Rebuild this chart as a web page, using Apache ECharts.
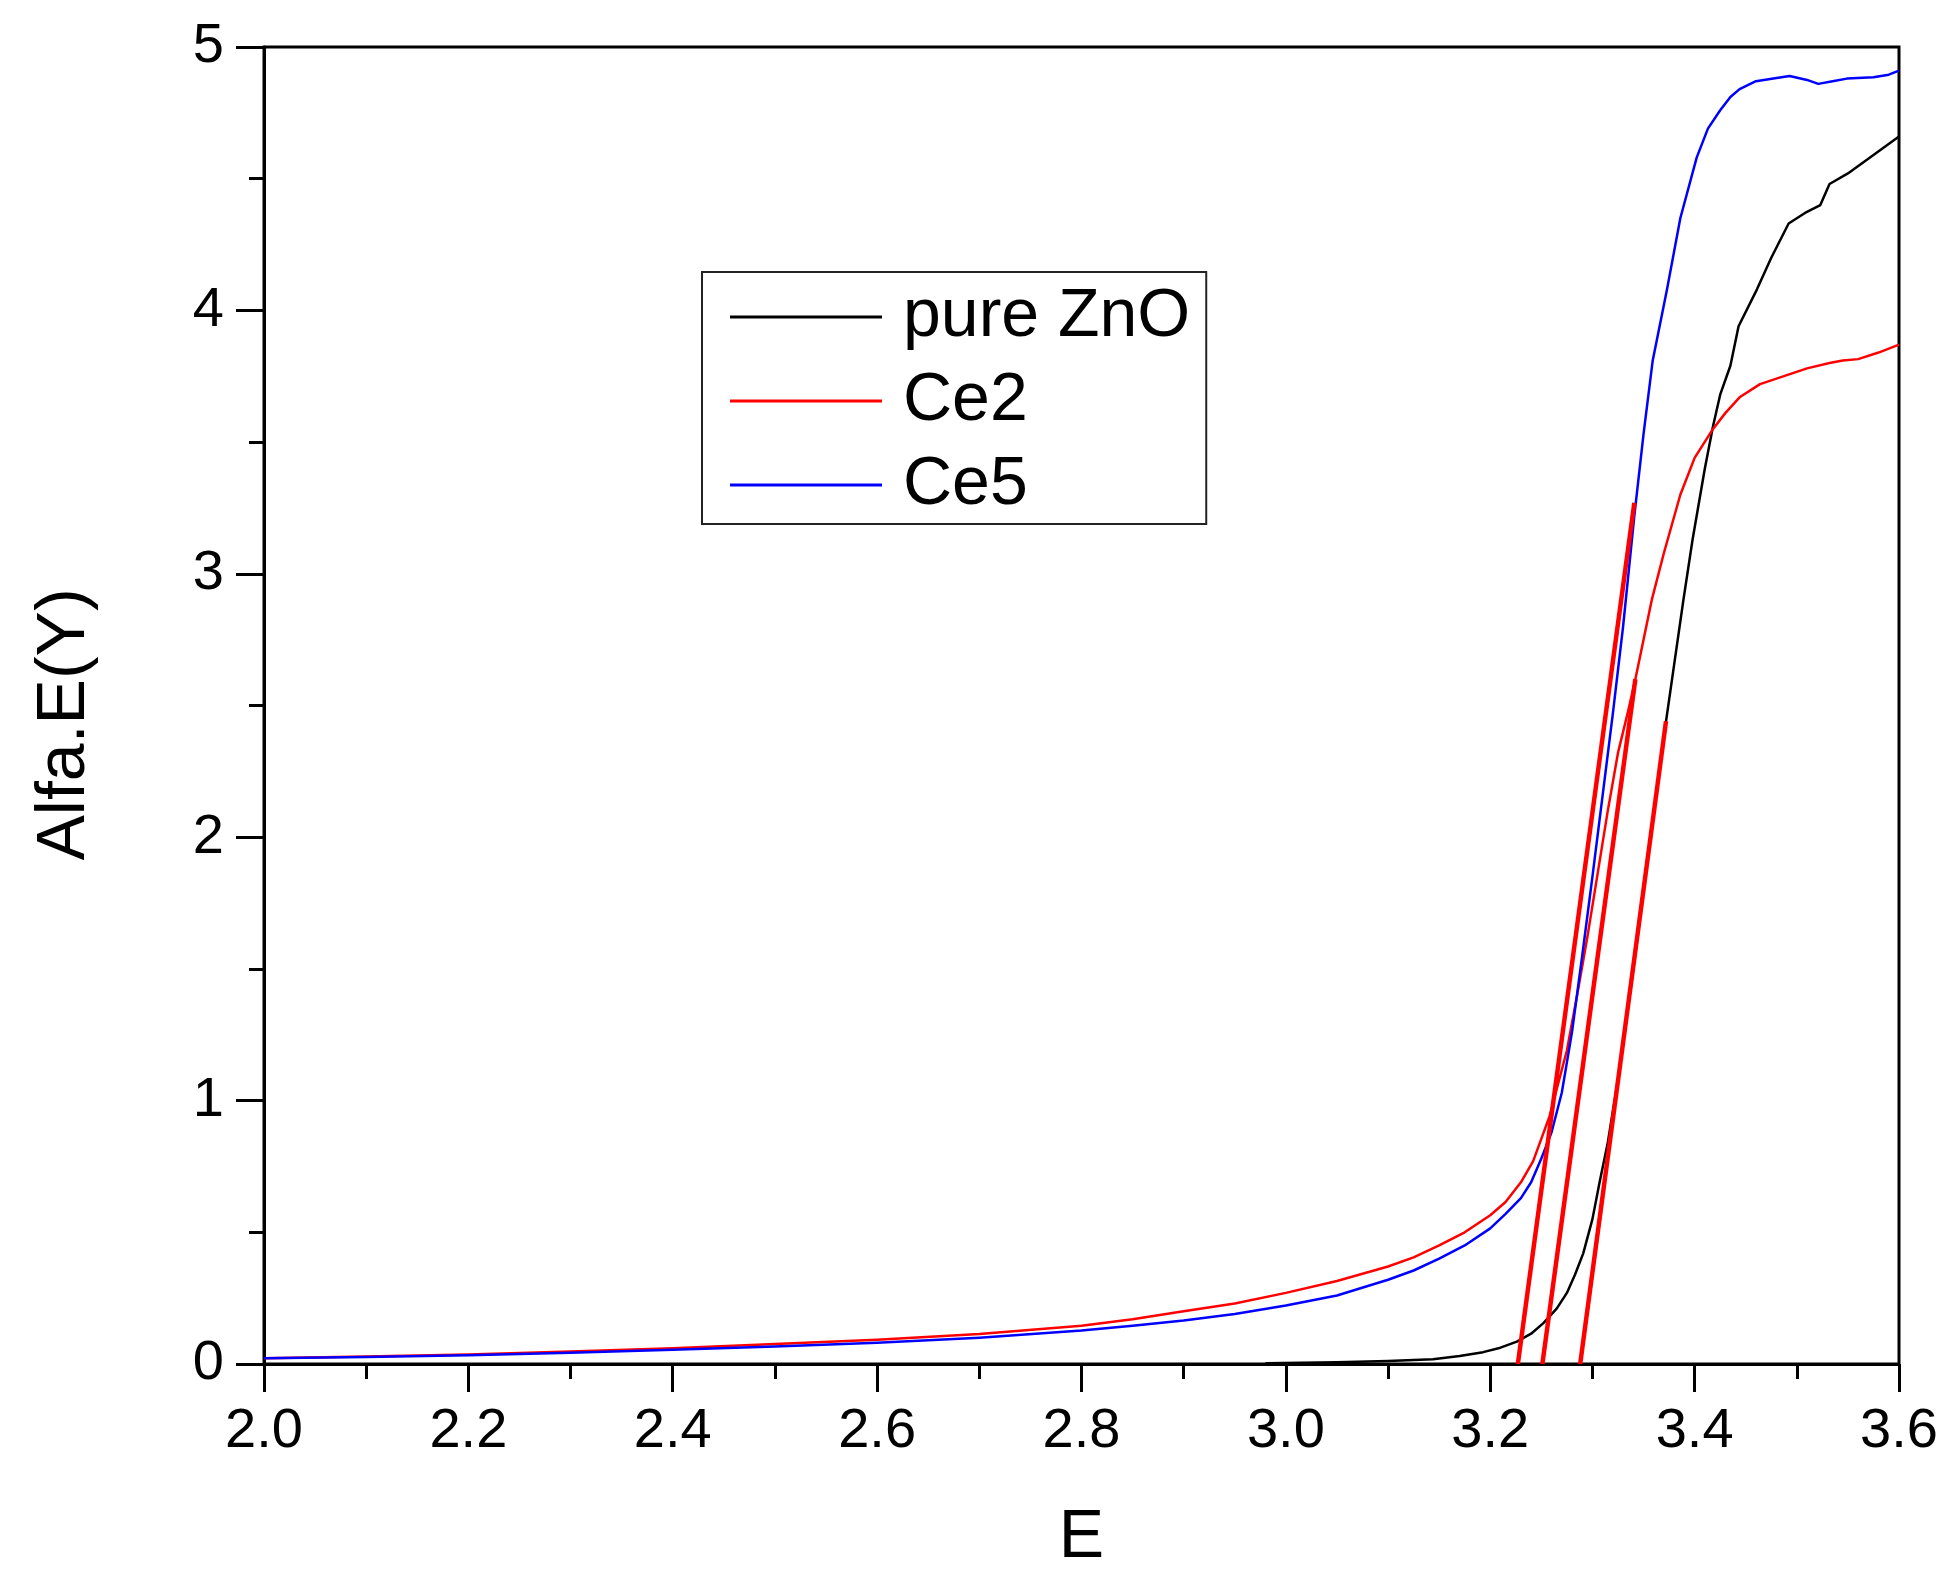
<!DOCTYPE html>
<html>
<head>
<meta charset="utf-8">
<script src="https://cdn.jsdelivr.net/npm/echarts@6/dist/echarts.min.js"></script>
<style>
html,body{margin:0;padding:0;background:#fff;}
#chart{width:1956px;height:1585px;}
</style>
</head>
<body>
<div id="chart"></div>
<script>
// ---- data ----
var xTicks = [2.0, 2.2, 2.4, 2.6, 2.8, 3.0, 3.2, 3.4, 3.6];
var yTicks = [0, 1, 2, 3, 4, 5];

var znoE = [2.98, 3.05, 3.1, 3.144, 3.17, 3.193, 3.21, 3.226, 3.24, 3.252, 3.265, 3.275, 3.283, 3.291, 3.30, 3.307, 3.315, 3.325, 3.335, 3.345, 3.355, 3.364, 3.372, 3.389, 3.398, 3.41, 3.418, 3.425, 3.435, 3.443, 3.461, 3.475, 3.492, 3.508, 3.523, 3.532, 3.55, 3.575, 3.6];
var znoY = [0.003, 0.007, 0.011, 0.018, 0.03, 0.045, 0.062, 0.085, 0.115, 0.155, 0.21, 0.27, 0.34, 0.42, 0.55, 0.69, 0.84, 1.08, 1.37, 1.66, 1.95, 2.21, 2.44, 2.90, 3.13, 3.40, 3.56, 3.68, 3.79, 3.94, 4.08, 4.20, 4.33, 4.37, 4.40, 4.48, 4.52, 4.59, 4.66];

var ce2E = [2.0, 2.1, 2.2, 2.3, 2.4, 2.5, 2.6, 2.7, 2.8, 2.85, 2.9, 2.95, 3.0, 3.05, 3.1, 3.125, 3.15, 3.175, 3.2, 3.215, 3.23, 3.242, 3.258, 3.275, 3.285, 3.295, 3.305, 3.315, 3.325, 3.335, 3.342, 3.35, 3.358, 3.37, 3.386, 3.40, 3.418, 3.43, 3.444, 3.464, 3.483, 3.51, 3.532, 3.545, 3.56, 3.58, 3.6];
var ce2Y = [0.022, 0.028, 0.036, 0.047, 0.060, 0.076, 0.092, 0.114, 0.145, 0.17, 0.20, 0.23, 0.27, 0.315, 0.37, 0.405, 0.45, 0.50, 0.565, 0.615, 0.69, 0.77, 0.94, 1.19, 1.40, 1.62, 1.86, 2.10, 2.32, 2.48, 2.60, 2.75, 2.90, 3.08, 3.30, 3.44, 3.55, 3.61, 3.67, 3.72, 3.745, 3.78, 3.80, 3.81, 3.815, 3.84, 3.87];

var ce5E = [2.0, 2.1, 2.2, 2.3, 2.4, 2.5, 2.6, 2.7, 2.8, 2.85, 2.9, 2.95, 3.0, 3.05, 3.1, 3.125, 3.15, 3.175, 3.2, 3.215, 3.23, 3.24, 3.25, 3.26, 3.27, 3.28, 3.29, 3.30, 3.31, 3.32, 3.33, 3.341, 3.35, 3.359, 3.373, 3.386, 3.402, 3.413, 3.425, 3.435, 3.444, 3.46, 3.477, 3.493, 3.51, 3.521, 3.535, 3.549, 3.575, 3.59, 3.6];
var ce5Y = [0.022, 0.027, 0.033, 0.043, 0.054, 0.066, 0.081, 0.100, 0.127, 0.145, 0.165, 0.19, 0.222, 0.26, 0.32, 0.355, 0.40, 0.45, 0.515, 0.57, 0.63, 0.69, 0.78, 0.88, 1.03, 1.26, 1.55, 1.85, 2.16, 2.47, 2.80, 3.22, 3.53, 3.81, 4.08, 4.35, 4.58, 4.69, 4.76, 4.81, 4.84, 4.87, 4.88, 4.89, 4.875, 4.86, 4.87, 4.88, 4.885, 4.895, 4.91];

// tangent (Tauc extrapolation) lines
var tanAE = [3.227, 3.341], tanAY = [0, 3.27];
var tanBE = [3.251, 3.342], tanBY = [0, 2.60];
var tanCE = [3.288, 3.372], tanCY = [0, 2.44];

var names = ['pure ZnO', 'Ce2', 'Ce5'];

function pairs(xs, ys) { return xs.map(function (x, i) { return [x, ys[i]]; }); }

var FONT = "'Liberation Sans', Arial, sans-serif";
var chart = echarts.init(document.getElementById('chart'), null, {renderer: 'canvas'});

function curve(name, color, xs, ys) {
  return {
    name: name, type: 'line', data: pairs(xs, ys),
    showSymbol: false, symbol: 'none', smooth: false,
    lineStyle: {color: color, width: 2.5, join: 'round'}, itemStyle: {color: color},
    emphasis: {disabled: true}, animation: false, z: 2
  };
}
function tangent(name, xs, ys) {
  return {
    name: name, type: 'line', data: pairs(xs, ys),
    showSymbol: false, symbol: 'none',
    lineStyle: {color: '#ff0000', width: 4.5}, itemStyle: {color: '#ff0000'},
    emphasis: {disabled: true}, animation: false, z: 3
  };
}

chart.setOption({
  animation: false,
  backgroundColor: '#ffffff',
  grid: {left: 264, top: 47, right: 57, bottom: 221, show: true, borderColor: '#000', borderWidth: 3},
  legend: {
    data: names.map(function (n) { return {name: n, icon: 'rect'}; }),
    orient: 'vertical',
    left: 702, top: 272,
    padding: [11, 16, 5, 28],
    itemWidth: 152, itemHeight: 3, itemGap: 16,
    borderColor: '#222', borderWidth: 2, backgroundColor: '#fff',
    selectedMode: false,
    textStyle: {fontFamily: FONT, fontSize: 68, color: '#000', lineHeight: 68, padding: [0, 0, 0, 16]}
  },
  xAxis: {
    type: 'value', min: 2.0, max: 3.6, interval: 0.2,
    name: 'E', nameLocation: 'middle', nameGap: 140,
    nameTextStyle: {fontFamily: FONT, fontSize: 68, color: '#000'},
    axisLine: {show: true, onZero: false, lineStyle: {color: '#000', width: 3}},
    axisTick: {show: true, inside: false, length: 28, lineStyle: {color: '#000', width: 3}},
    minorTick: {show: true, splitNumber: 2, length: 15, lineStyle: {color: '#000', width: 3}},
    splitLine: {show: false},
    axisLabel: {margin: 40, fontFamily: FONT, fontSize: 56, color: '#000',
      formatter: function (v) { return v.toFixed(1); }}
  },
  yAxis: {
    type: 'value', min: 0, max: 5, interval: 1,
    name: 'Alfa.E(Y)', nameLocation: 'middle', nameGap: 165, nameRotate: 90,
    nameTextStyle: {fontFamily: FONT, fontSize: 68, color: '#000', padding: [0, 38, 0, 0]},
    axisLine: {show: true, onZero: false, lineStyle: {color: '#000', width: 3}},
    axisTick: {show: true, inside: false, length: 28, lineStyle: {color: '#000', width: 3}},
    minorTick: {show: true, splitNumber: 2, length: 15, lineStyle: {color: '#000', width: 3}},
    splitLine: {show: false},
    axisLabel: {margin: 40, fontFamily: FONT, fontSize: 56, color: '#000'}
  },
  series: [
    curve('pure ZnO', '#000000', znoE, znoY),
    curve('Ce2', '#ff0000', ce2E, ce2Y),
    curve('Ce5', '#0000ff', ce5E, ce5Y),
    tangent('tangent Ce5', tanAE, tanAY),
    tangent('tangent Ce2', tanBE, tanBY),
    tangent('tangent ZnO', tanCE, tanCY)
  ]
});
</script>
</body>
</html>
